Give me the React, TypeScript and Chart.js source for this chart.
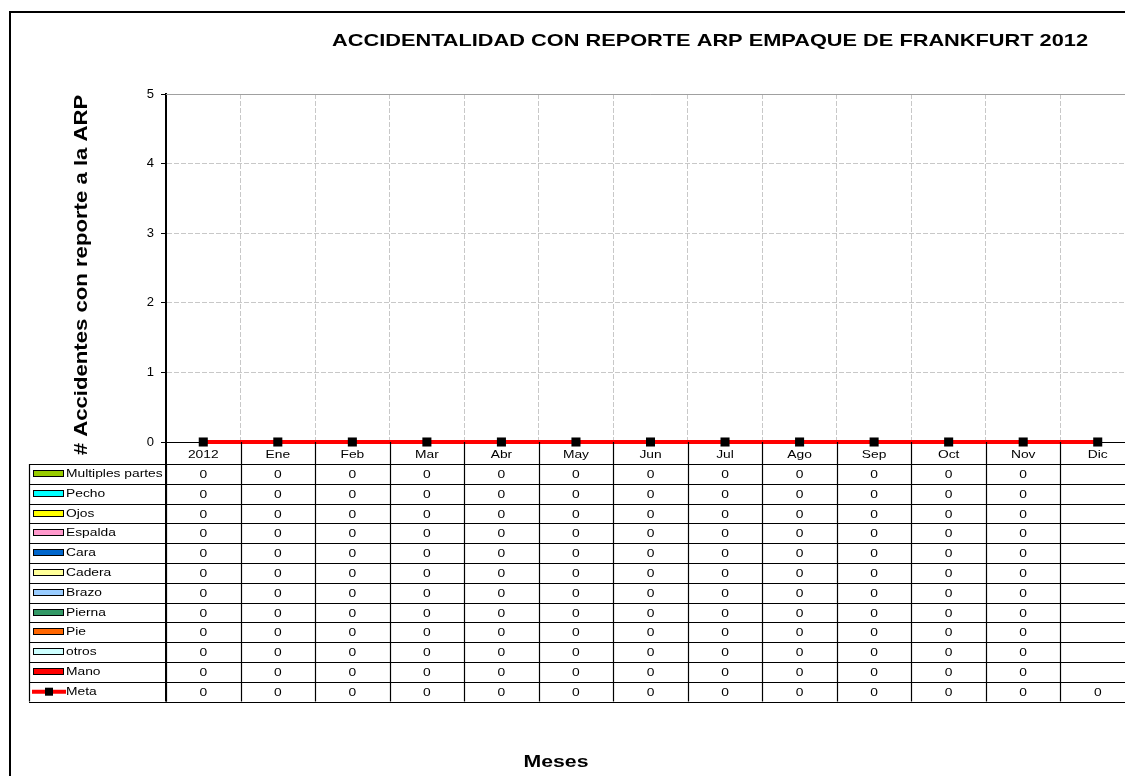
import React, { useEffect, useRef } from 'react';
import { Chart, registerables } from 'chart.js';

Chart.register(...registerables);

const categories = ['2012', 'Ene', 'Feb', 'Mar', 'Abr', 'May', 'Jun', 'Jul', 'Ago', 'Sep', 'Oct', 'Nov', 'Dic'];

const multiplesPartes = [0, 0, 0, 0, 0, 0, 0, 0, 0, 0, 0, 0, null];
const pecho = [0, 0, 0, 0, 0, 0, 0, 0, 0, 0, 0, 0, null];
const ojos = [0, 0, 0, 0, 0, 0, 0, 0, 0, 0, 0, 0, null];
const espalda = [0, 0, 0, 0, 0, 0, 0, 0, 0, 0, 0, 0, null];
const cara = [0, 0, 0, 0, 0, 0, 0, 0, 0, 0, 0, 0, null];
const cadera = [0, 0, 0, 0, 0, 0, 0, 0, 0, 0, 0, 0, null];
const brazo = [0, 0, 0, 0, 0, 0, 0, 0, 0, 0, 0, 0, null];
const pierna = [0, 0, 0, 0, 0, 0, 0, 0, 0, 0, 0, 0, null];
const pie = [0, 0, 0, 0, 0, 0, 0, 0, 0, 0, 0, 0, null];
const otros = [0, 0, 0, 0, 0, 0, 0, 0, 0, 0, 0, 0, null];
const mano = [0, 0, 0, 0, 0, 0, 0, 0, 0, 0, 0, 0, null];
const meta = [0, 0, 0, 0, 0, 0, 0, 0, 0, 0, 0, 0, 0];

const barNames = ['Multiples partes', 'Pecho', 'Ojos', 'Espalda', 'Cara', 'Cadera', 'Brazo', 'Pierna', 'Pie', 'otros', 'Mano'];
const barSeries = [multiplesPartes, pecho, ojos, espalda, cara, cadera, brazo, pierna, pie, otros, mano];
const barColors = ['#99CC00', '#00FFFF', '#FFFF00', '#FF99CC', '#0066CC', '#FFFF99', '#99CCFF', '#339966', '#FF6600', '#CCFFFF', '#FF0000'];
const metaName = 'Meta';

const yMin = 0;
const yMax = 5;
const yStep = 1;

const chartTitle = 'ACCIDENTALIDAD CON REPORTE ARP EMPAQUE DE FRANKFURT 2012';
const yTitle = '# Accidentes con reporte a la ARP';
const xTitle = 'Meses';

const FONT = "'Liberation Sans', Arial, sans-serif";
const STRETCH = 1.2;

function drawText(ctx: CanvasRenderingContext2D, s: string, x: number, y: number, font: string, align: CanvasTextAlign, baseline: CanvasTextBaseline = 'alphabetic', stretch = STRETCH) {
  ctx.save();
  ctx.translate(x, y);
  ctx.scale(stretch, 1);
  ctx.font = font;
  ctx.textAlign = align;
  ctx.textBaseline = baseline;
  ctx.fillStyle = '#000';
  ctx.fillText(s, 0, 0);
  ctx.restore();
}

const decorPlugin = {
  id: 'decor',
  beforeDraw(chart: any) {
    const ctx = chart.ctx;
    ctx.save();
    ctx.fillStyle = '#fff';
    ctx.fillRect(0, 0, chart.width, chart.height);
    ctx.restore();
  },
  afterDraw(chart: any) {
    const ctx: CanvasRenderingContext2D = chart.ctx;
    const xs = chart.scales.x;
    const area = chart.chartArea;
    const n = categories.length;
    const step = (area.right - area.left) / n;

    // outer frame
    ctx.save();
    ctx.strokeStyle = '#000';
    ctx.lineWidth = 2;
    ctx.strokeRect(10, 12, 1400, 1000);
    ctx.restore();

    // top plot line (solid)
    ctx.save();
    ctx.strokeStyle = '#a0a0a0';
    ctx.lineWidth = 1;
    ctx.beginPath();
    ctx.moveTo(area.left, Math.round(area.top) + 0.5);
    ctx.lineTo(area.right, Math.round(area.top) + 0.5);
    ctx.stroke();
    ctx.restore();

    // titles
    drawText(ctx, chartTitle, 710, 46, 'bold 17px ' + FONT, 'center', 'alphabetic', 1.28);
    drawText(ctx, xTitle, 556, 767, 'bold 17px ' + FONT, 'center', 'alphabetic', 1.25);
    ctx.save();
    ctx.translate(87, (area.top + area.bottom) / 2 + 7);
    ctx.rotate(-Math.PI / 2);
    drawText(ctx, yTitle, 0, 0, 'bold 18px ' + FONT, 'center', 'alphabetic', 1.23);
    ctx.restore();

    // data table
    const labelTop = area.bottom;
    const tableTop = 464;
    const rowH = 19.8;
    const rows = barNames.length + 1;
    const tableBottom = tableTop + rows * rowH;
    const legendLeft = 29;
    const smallFont = '11.5px ' + FONT;

    for (let i = 0; i < n; i++) {
      const cx = xs.getPixelForValue(i);
      drawText(ctx, categories[i], cx, 457.5, smallFont, 'center');
    }

    ctx.save();
    ctx.strokeStyle = '#000';
    ctx.lineWidth = 1.2;
    ctx.beginPath();
    for (let i = 0; i <= n; i++) {
      const x = Math.round(area.left + i * step) + 0.5;
      ctx.moveTo(x, i === 0 ? tableTop : labelTop);
      ctx.lineTo(x, tableBottom);
    }
    ctx.moveTo(legendLeft + 0.5, tableTop);
    ctx.lineTo(legendLeft + 0.5, tableBottom);
    for (let r = 0; r <= rows; r++) {
      const y = Math.round(tableTop + r * rowH) + 0.5;
      ctx.moveTo(legendLeft, y);
      ctx.lineTo(area.right, y);
    }
    ctx.stroke();
    ctx.lineWidth = 2;
    ctx.beginPath();
    ctx.moveTo(area.left, labelTop);
    ctx.lineTo(area.left, tableBottom);
    ctx.stroke();
    ctx.restore();

    const allSeries = [...barSeries, meta];
    const allNames = [...barNames, metaName];
    for (let r = 0; r < rows; r++) {
      const cy = tableTop + r * rowH + rowH / 2;
      ctx.save();
      if (r < barNames.length) {
        ctx.fillStyle = barColors[r];
        ctx.fillRect(33, Math.round(cy) - 3, 30, 6);
        ctx.strokeStyle = '#000';
        ctx.lineWidth = 1;
        ctx.strokeRect(33.5, Math.round(cy) - 3.5, 30, 6);
      } else {
        ctx.strokeStyle = '#FF0000';
        ctx.lineWidth = 4;
        ctx.beginPath();
        ctx.moveTo(32, cy);
        ctx.lineTo(66, cy);
        ctx.stroke();
        ctx.fillStyle = '#000';
        ctx.fillRect(45, cy - 4, 8, 8);
      }
      ctx.restore();
      drawText(ctx, allNames[r], 66, cy, smallFont, 'left', 'middle');
      const vals = allSeries[r];
      for (let i = 0; i < n; i++) {
        const v = vals[i];
        if (v === null || v === undefined) continue;
        drawText(ctx, String(v), xs.getPixelForValue(i), cy + 1, smallFont, 'center', 'middle');
      }
    }
  },
};

export default function App() {
  const ref = useRef<HTMLCanvasElement>(null);

  useEffect(() => {
    if (!ref.current) return;
    const datasets: any[] = barSeries.map((d, i) => ({
      type: 'bar',
      label: barNames[i],
      data: d,
      backgroundColor: barColors[i],
      borderWidth: 0,
      stack: 'partes',
      order: 2,
    }));
    datasets.push({
      type: 'line',
      label: metaName,
      data: meta,
      borderColor: '#FF0000',
      borderWidth: 4,
      pointStyle: 'rect',
      pointRadius: 6.4,
      pointBackgroundColor: '#000',
      pointBorderColor: '#000',
      pointBorderWidth: 0,
      tension: 0,
      clip: false,
      order: 1,
      stack: 'meta',
    });

    const chart = new Chart(ref.current, {
      type: 'bar',
      data: { labels: categories, datasets },
      options: {
        responsive: false,
        animation: false,
        events: [],
        layout: { padding: { left: 100, top: 94, right: 25, bottom: 334 } },
        plugins: { legend: { display: false }, tooltip: { enabled: false }, title: { display: false } },
        scales: {
          x: {
            type: 'category',
            offset: true,
            stacked: true,
            grid: { offset: true, drawTicks: false, color: '#c8c8c8', lineWidth: 1 },
            border: { display: true, color: '#000', width: 1, dash: [5, 2] },
            ticks: { display: false },
          },
          y: {
            min: yMin,
            max: yMax,
            stacked: true,
            afterFit: (s: any) => { s.width = 66; },
            ticks: { stepSize: yStep, color: '#000', padding: 7, font: { family: FONT, size: 13 } },
            grid: { color: '#c8c8c8', lineWidth: 1, tickColor: '#000', tickLength: 5, drawTicks: true },
            border: { display: true, color: '#000', width: 2, dash: [5, 2] },
          },
        },
      } as any,
      plugins: [decorPlugin],
    });
    return () => chart.destroy();
  }, []);

  return (
    <div style={{ position: 'fixed', left: 0, top: 0, width: 1125, height: 776, overflow: 'hidden', background: '#fff' }}>
      <canvas ref={ref} width={1160} height={776} style={{ display: 'block' }} />
    </div>
  );
}
